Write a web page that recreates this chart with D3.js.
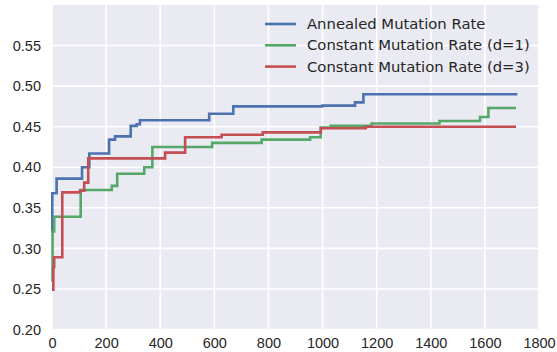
<!DOCTYPE html>
<html>
<head>
<meta charset="utf-8">
<script src="https://cdn.jsdelivr.net/npm/d3@7"></script>
<style>
  body { margin: 0; background: #fff; }
  svg { display: block; font-family: "DejaVu Sans", sans-serif; }
  .tick text { fill: #262626; font-size: 14.5px; }
</style>
</head>
<body>
<svg width="557" height="352"></svg>
<script>
// step series (x = iteration, y = best value)
var annealedX = [0, 1, 17, 111, 138, 211, 233, 291, 313, 325, 581, 670, 999, 1120, 1151, 1720];
var annealedY = [0.320, 0.368, 0.386, 0.400, 0.417, 0.434, 0.438, 0.451, 0.453, 0.458, 0.466, 0.475, 0.476, 0.480, 0.490, 0.490];

var constant1X = [0, 2, 8, 106, 221, 241, 341, 371, 592, 775, 954, 993, 1030, 1181, 1432, 1582, 1613, 1715];
var constant1Y = [0.259, 0.321, 0.339, 0.372, 0.377, 0.392, 0.400, 0.425, 0.430, 0.434, 0.437, 0.449, 0.451, 0.454, 0.457, 0.462, 0.473, 0.473];

var constant3X = [0, 5, 8, 38, 103, 119, 134, 418, 492, 627, 779, 994, 1160, 1715];
var constant3Y = [0.249, 0.277, 0.289, 0.369, 0.371, 0.381, 0.411, 0.418, 0.437, 0.440, 0.443, 0.448, 0.450, 0.450];

var seriesNames = ["Annealed Mutation Rate", "Constant Mutation Rate (d=1)", "Constant Mutation Rate (d=3)"];
var xTicks = [0, 200, 400, 600, 800, 1000, 1200, 1400, 1600, 1800];
var yTicks = [0.20, 0.25, 0.30, 0.35, 0.40, 0.45, 0.50, 0.55];

var colors = ["#4c72b0", "#55a868", "#c44e52"];

var svg = d3.select("svg"),
    margin = {top: 5, right: 18, bottom: 22.5, left: 52},
    width = +svg.attr("width") - margin.left - margin.right,
    height = +svg.attr("height") - margin.top - margin.bottom;

var x = d3.scaleLinear().domain([0, 1800]).range([0, width]),
    y = d3.scaleLinear().domain([0.2, 0.6]).range([height, 0]);

var g = svg.append("g")
    .attr("transform", "translate(" + margin.left + "," + margin.top + ")");

g.append("rect")
    .attr("width", width)
    .attr("height", height)
    .attr("fill", "#eaeaf2");

// grid
g.append("g")
    .selectAll("line.gx")
    .data(xTicks)
    .enter().append("line")
      .attr("x1", function(d) { return x(d); })
      .attr("x2", function(d) { return x(d); })
      .attr("y1", 0)
      .attr("y2", height)
      .attr("stroke", "#fff")
      .attr("stroke-width", 1.6);

g.append("g")
    .selectAll("line.gy")
    .data(yTicks)
    .enter().append("line")
      .attr("x1", 0)
      .attr("x2", width)
      .attr("y1", function(d) { return y(d); })
      .attr("y2", function(d) { return y(d); })
      .attr("stroke", "#fff")
      .attr("stroke-width", 1.6);

// axes, no domain line or tick marks
g.append("g")
    .attr("transform", "translate(0," + height + ")")
    .call(d3.axisBottom(x).tickValues(xTicks).tickFormat(d3.format("d")).tickSize(0).tickPadding(8.5))
    .call(function(a) { a.select(".domain").remove(); });

g.append("g")
    .call(d3.axisLeft(y).tickValues(yTicks).tickFormat(d3.format(".2f")).tickSize(0).tickPadding(11))
    .call(function(a) { a.select(".domain").remove(); });

var series = [
  {xs: annealedX, ys: annealedY},
  {xs: constant1X, ys: constant1Y},
  {xs: constant3X, ys: constant3Y}
];

var line = d3.line()
    .curve(d3.curveStepAfter)
    .x(function(d) { return x(d[0]); })
    .y(function(d) { return y(d[1]); });

series.forEach(function(s, i) {
  g.append("path")
      .datum(d3.zip(s.xs, s.ys))
      .attr("fill", "none")
      .attr("stroke", colors[i])
      .attr("stroke-width", 2.6)
      .attr("d", line);
});

// legend
var legend = svg.append("g")
    .attr("transform", "translate(265,24)");

var item = legend.selectAll("g")
    .data(seriesNames)
    .enter().append("g")
      .attr("transform", function(d, i) { return "translate(0," + (i * 21.3) + ")"; });

item.append("line")
    .attr("x1", 0)
    .attr("x2", 31)
    .attr("stroke", function(d, i) { return colors[i]; })
    .attr("stroke-width", 2.6);

item.append("text")
    .attr("x", 42)
    .attr("dy", "0.35em")
    .attr("fill", "#262626")
    .style("font-size", "14.8px")
    .text(function(d) { return d; });
</script>
</body>
</html>
